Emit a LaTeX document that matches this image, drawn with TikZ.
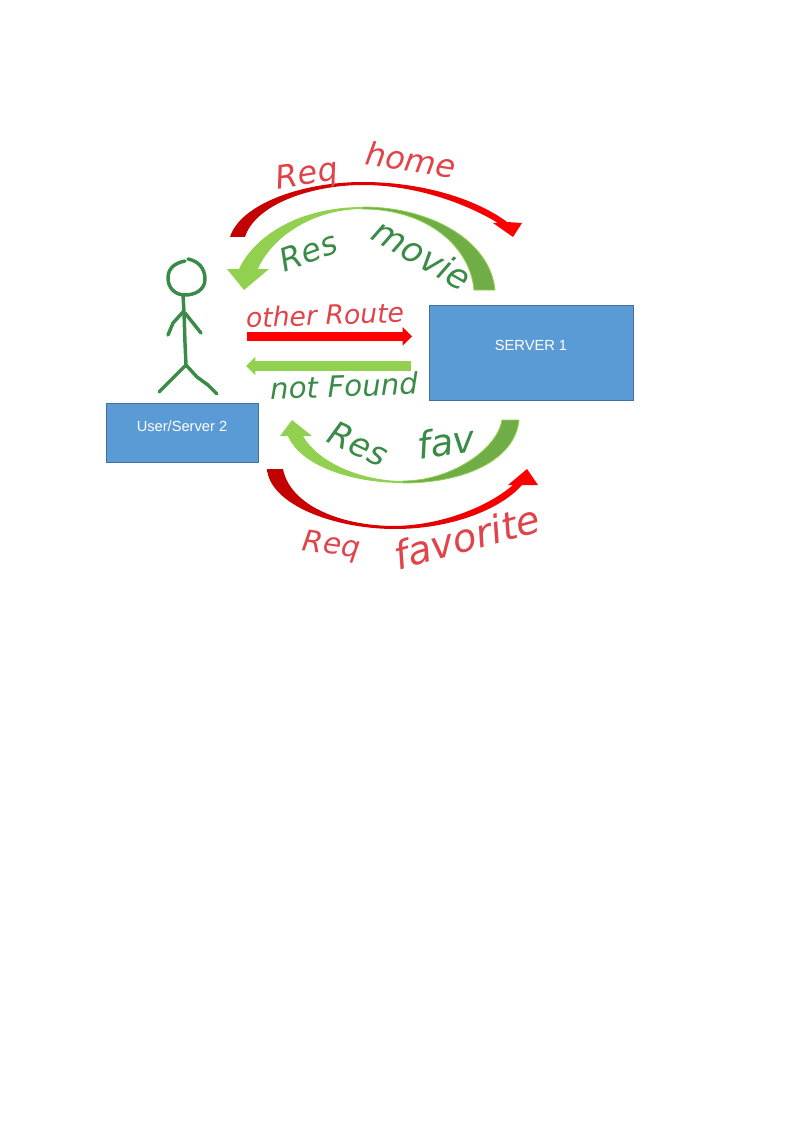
\documentclass[tikz,border=0pt]{standalone}
\usepackage{fontspec}
\usepackage{graphicx}
\setmainfont{Liberation Sans}
\newfontfamily\inkfont{DejaVu Sans Oblique}
\usetikzlibrary{arrows.meta}
\definecolor{boxfill}{HTML}{5B9BD5}
\definecolor{boxline}{HTML}{41719C}
\definecolor{lightgreen}{HTML}{92D050}
\definecolor{darkgreen}{HTML}{70AD47}
\definecolor{inkgreen}{HTML}{3A8A48}
\definecolor{inkred}{HTML}{E0444A}
\definecolor{darkred}{HTML}{C00000}
\definecolor{purered}{HTML}{FF0000}
\newcommand{\inkword}[4]{\raisebox{#2}{\rotatebox[origin=c]{#1}{\fontsize{#3}{#3}\selectfont #4}}}
\tikzset{
  px/.style={x=0.75pt,y=-0.75pt},
  serverbox/.style={draw=boxline,fill=boxfill,line width=0.8pt,anchor=north west,inner sep=0pt},
  boxtext/.style={text=white,font=\fontsize{11}{13}\selectfont,inner sep=0pt},
  figure/.style={draw=inkgreen,line width=2.6pt,line cap=round,line join=round},
  inkr/.style={text=inkred,inner sep=0pt,font=\inkfont},
  inkg/.style={text=inkgreen,inner sep=0pt,font=\inkfont},
  greenedge/.style={draw=lightgreen,line width=0.6pt},
  blockred/.style={line width=7pt,draw=purered,-{Triangle[length=7pt,width=13.5pt]}},
  blockgreen/.style={line width=7pt,draw=lightgreen,-{Triangle[length=7pt,width=13.5pt]}}
}
\begin{document}
\begin{tikzpicture}[px]
\useasboundingbox (0,0) rectangle (794,1123);
% boxes
\node[serverbox,minimum width=153pt,minimum height=71.5pt] (server) at (429,305) {};
\node[boxtext] (serverlabel) at (531,345.5) {SERVER 1};
\node[serverbox,minimum width=114pt,minimum height=44.5pt] (user) at (106,403) {};
\node[boxtext] (userlabel) at (182,426) {User/Server 2};
% curved block arrows
\shade[left color=darkred,middle color=purered,right color=purered]
  (230,237) .. controls (240,205) and (300,182) .. (363,182)
  .. controls (420,182) and (475,198) .. (507,222)
  -- (522,223) -- (513,237) -- (493,223) -- (498,223)
  .. controls (465,203) and (415,185) .. (363,185)
  .. controls (310,185) and (255,205) .. (245,237) -- cycle;
\path[fill=lightgreen]
  (363,207) .. controls (300,207) and (255,235) .. (239,269)
  -- (227,269) -- (244,290) -- (269,269) -- (258,269)
  .. controls (270,240) and (310,209) .. (363,209) -- cycle;
\path[fill=darkgreen,greenedge]
  (363,207) .. controls (430,207) and (490,240) .. (495,290)
  -- (474,290) .. controls (470,245) and (425,209) .. (363,209) -- cycle;
\path[fill=lightgreen]
  (403,483) .. controls (350,483) and (300,465) .. (288,436)
  -- (280,436) -- (292,420) -- (312,436) -- (303,436)
  .. controls (320,465) and (365,481) .. (403,481) -- cycle;
\path[fill=darkgreen,greenedge]
  (403,483) .. controls (465,483) and (515,460) .. (519,420)
  -- (502,420) .. controls (497,450) and (450,481) .. (403,481) -- cycle;
\shade[left color=darkred,middle color=purered,right color=purered]
  (267,469) .. controls (270,505) and (335,529) .. (395,529)
  .. controls (450,529) and (500,510) .. (522,485)
  -- (538,485) -- (527,469) -- (508,485) -- (513,485)
  .. controls (490,505) and (445,525) .. (395,526)
  .. controls (340,526) and (290,505) .. (283,469) -- cycle;
% straight arrows
\coordinate (redfrom) at (246.5,336.3);
\coordinate (redto) at (412,336.3);
\coordinate (greenfrom) at (411,366);
\coordinate (greento) at (246,366);
\draw[blockred] (redfrom) -- (redto);
\draw[blockgreen] (greenfrom) -- (greento);
% stick figure
\draw[figure] (188,259) .. controls (198,261) and (205,268) .. (205,279)
  .. controls (205,290) and (195,295) .. (185,295)
  .. controls (175,295) and (168,288) .. (168,278)
  .. controls (168,268) and (175,263) .. (185,261);
\draw[figure] (183,295) -- (184,312) -- (185,343) -- (186,365);
\draw[figure] (183,312) -- (173,323) -- (168,335);
\draw[figure] (185,313) -- (193,323) -- (201,333);
\draw[figure] (186,365) -- (159,392);
\draw[figure] (186,365) -- (197,377) -- (208,385) -- (217,394);
% handwritten labels
\node[inkr] (reqhome) at (366,168) {\inkword{9}{-4pt}{24}{Req}\hspace{18pt}\inkword{-9}{6pt}{24}{home}};
\node[inkg] (resmovie) at (376,254) {\inkword{20}{0pt}{24}{Res}\hspace{22pt}\inkword{-30}{-3pt}{26}{movie}};
\node[inkr] (otherroute) at (325,315) {\inkword{2}{0pt}{20}{other Route}};
\node[inkg] (notfound) at (344,386) {\inkword{2}{0pt}{22}{not Found}};
\node[inkg] (resfav) at (401,444) {\inkword{-25}{0pt}{25}{Res}\hspace{18pt}\inkword{8}{0pt}{28}{fav}};
\node[inkr] (reqfavorite) at (422,537) {\inkword{-8}{-2pt}{22}{Req}\hspace{22pt}\inkword{15}{0pt}{29}{favorite}};
\end{tikzpicture}
\end{document}
